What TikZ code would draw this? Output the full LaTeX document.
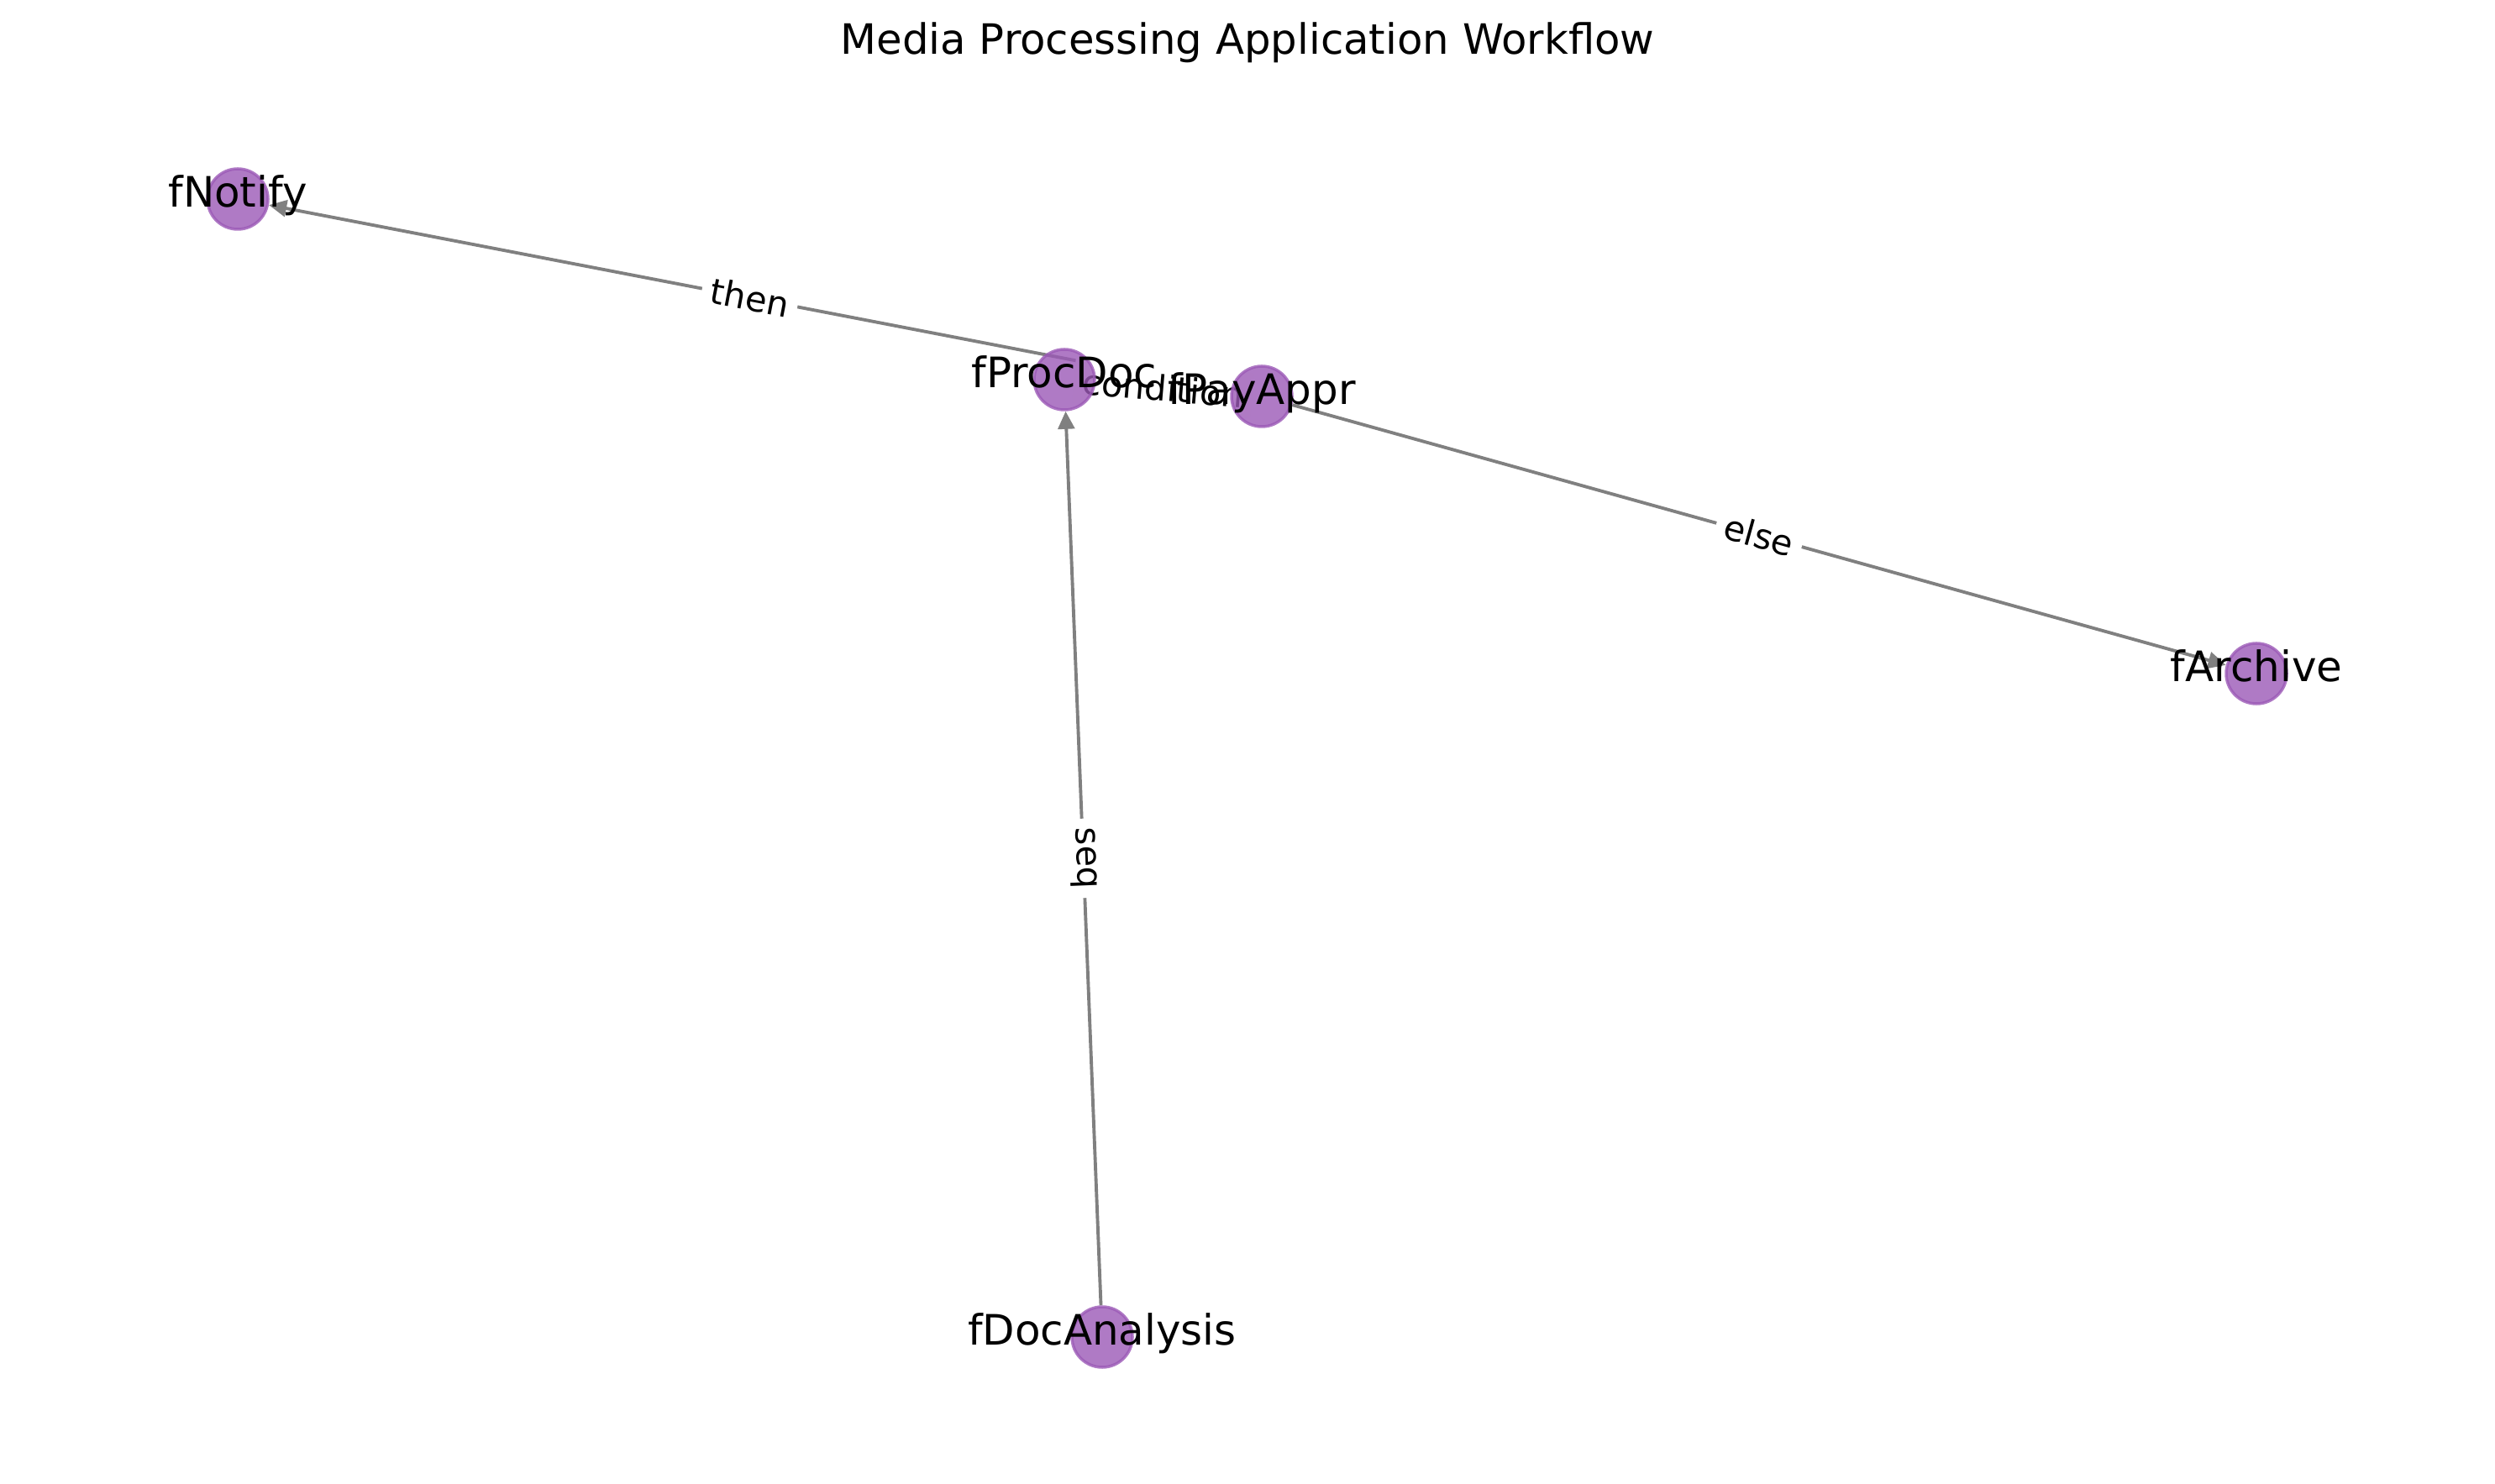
\documentclass[tikz,border=0pt]{standalone}
\usepackage{fontspec}
\setmainfont{DejaVu Sans}
\usepackage{tikz}
\usetikzlibrary{arrows.meta,positioning,backgrounds}
\pgfdeclarelayer{background}
\pgfdeclarelayer{foreground}
\pgfsetlayers{background,main,foreground}

\definecolor{fnpurple}{HTML}{9B59B6}
\definecolor{edgegray}{HTML}{808080}

\begin{document}
\begin{tikzpicture}[
    fn/.style={circle, minimum size=0.72cm, inner sep=0pt,
      fill=fnpurple, draw=fnpurple, line width=1pt,
      fill opacity=0.8, draw opacity=0.8},
    fnlabel/.style={font=\fontsize{14.2}{17}\selectfont, text=black,
      text opacity=1, fill opacity=0, draw opacity=0,
      text height=0.76em, text depth=0.24em, inner sep=0pt},
    flow/.style={draw=edgegray, line width=1.1pt,
      -{Triangle[length=6pt,width=5.6pt]}},
    cond/.style={midway, sloped, fill=white, inner sep=3pt,
      font=\fontsize{11.8}{14}\selectfont}]
  \useasboundingbox (0,0) rectangle (29.70,17.66);

  \node[font=\fontsize{14.15}{17}\selectfont] (title) at (14.85,17.15)
    {Media Processing Application Workflow};

  % functions
  \node[fn, label={[fnlabel]center:fNotify}] (notify) at (2.83,15.29) {};
  \node[fn, label={[fnlabel]center:fProcDoc}] (procdoc) at (12.67,13.14) {};
  \node[fn, label={[fnlabel]center:fPayAppr}] (payappr) at (15.02,12.94) {};
  \node[fn, label={[fnlabel]center:fArchive}] (archive) at (26.86,9.64) {};
  \node[fn, label={[fnlabel]center:fDocAnalysis}] (docanalysis) at (13.12,1.74) {};

  % transitions
  \begin{pgfonlayer}{background}
    \draw[flow] (docanalysis) -- (procdoc);
    \draw[flow] (procdoc) -- (payappr);
    \draw[flow] (payappr) -- (notify);
    \draw[flow] (payappr) -- (archive);
    \path (docanalysis) -- node[cond] {seq} (procdoc);
    \path (procdoc) -- node[cond] {condition} (payappr);
    \path (payappr) -- node[cond] {then} (notify);
    \path (payappr) -- node[cond] {else} (archive);
  \end{pgfonlayer}
\end{tikzpicture}
\end{document}
